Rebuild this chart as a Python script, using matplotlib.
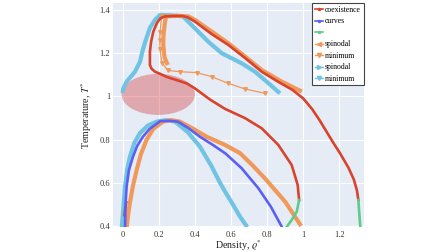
import matplotlib
matplotlib.use("Agg")
import matplotlib.pyplot as plt
from matplotlib.patches import Ellipse
from matplotlib.lines import Line2D

plt.rcParams['font.family'] = ['Liberation Serif', 'DejaVu Serif']
plt.rcParams['mathtext.fontset'] = 'stix'

# --- coexistence curves, higher critical point (red + green tails) ---
red1_x = [0.977, 0.969, 0.936, 0.862, 0.77, 0.678, 0.567, 0.484, 0.40, 0.355, 0.30, 0.244,
          0.205, 0.179, 0.16, 0.151, 0.151, 0.158, 0.17, 0.19, 0.21, 0.234, 0.28, 0.33, 0.36,
          0.40, 0.49, 0.585, 0.68, 0.77, 0.86, 0.94, 1.0, 1.05, 1.09, 1.13, 1.17, 1.204, 1.25,
          1.28, 1.297, 1.305]
red1_t = [0.52, 0.59, 0.682, 0.775, 0.852, 0.899, 0.942, 0.985, 1.037, 1.06, 1.075, 1.09,
          1.105, 1.114, 1.128, 1.145, 1.207, 1.255, 1.30, 1.34, 1.362, 1.37, 1.372, 1.372, 1.366,
          1.346, 1.29, 1.238, 1.176, 1.114, 1.068, 1.03, 0.99, 0.94, 0.89, 0.835, 0.78, 0.736,
          0.67, 0.615, 0.565, 0.52]
red_small_x = [0.010, 0.014, 0.020]
red_small_t = [0.45, 0.48, 0.51]
green_in_x = [0.977, 0.964, 0.936, 0.905]
green_in_t = [0.52, 0.466, 0.428, 0.392]
green_out_x = [1.305, 1.31, 1.316]
green_out_t = [0.52, 0.46, 0.392]

# --- coexistence curve, lower critical point (blue) ---
blue_x = [0.013, 0.016, 0.022, 0.035, 0.057, 0.08, 0.112, 0.15, 0.207, 0.26, 0.306, 0.36,
          0.428, 0.50, 0.57, 0.659, 0.751, 0.82, 0.882]
blue_t = [0.39, 0.50, 0.582, 0.66, 0.72, 0.77, 0.813, 0.85, 0.885, 0.887, 0.883, 0.855,
          0.813, 0.775, 0.735, 0.667, 0.575, 0.49, 0.395]

# --- orange set (upper) ---
or_spin_x = [0.216, 0.207, 0.205, 0.207, 0.216, 0.251, 0.317, 0.41, 0.493, 0.585, 0.678, 0.788]
or_spin_t = [1.37, 1.30, 1.26, 1.22, 1.155, 1.12, 1.114, 1.11, 1.091, 1.06, 1.034, 1.014]
or_min1_x = [0.25, 0.232, 0.225, 0.226, 0.232, 0.24, 0.30, 0.364, 0.40, 0.493, 0.585, 0.678,
             0.77, 0.881, 0.992]
or_min1_t = [1.145, 1.18, 1.238, 1.28, 1.33, 1.37, 1.373, 1.37, 1.354, 1.30, 1.246, 1.184,
             1.122, 1.068, 1.022]
# --- orange set (lower) ---
or_min2_x = [0.022, 0.03, 0.04, 0.058, 0.078, 0.10, 0.133, 0.17, 0.223, 0.27, 0.317, 0.39,
             0.465, 0.567, 0.65, 0.72, 0.788, 0.9, 0.988]
or_min2_t = [0.39, 0.45, 0.507, 0.59, 0.66, 0.73, 0.80, 0.85, 0.883, 0.89, 0.883, 0.85,
             0.813, 0.775, 0.737, 0.68, 0.62, 0.512, 0.40]

# --- light blue set ---
lb_min1_x = [0.0, 0.003, 0.022, 0.068, 0.096, 0.11, 0.124, 0.151, 0.18, 0.207, 0.27, 0.334,
             0.40, 0.474, 0.548, 0.659, 0.733, 0.807, 0.871]
lb_min1_t = [1.015, 1.035, 1.068, 1.114, 1.16, 1.21, 1.25, 1.317, 1.355, 1.377, 1.375, 1.37,
             1.315, 1.253, 1.2, 1.153, 1.114, 1.061, 1.014]
lb_min2_x = [-0.005, 0.005, 0.013, 0.025, 0.04, 0.065, 0.096, 0.14, 0.188, 0.24, 0.29, 0.36,
             0.428, 0.49, 0.539, 0.567, 0.61, 0.65, 0.69]
lb_min2_t = [0.39, 0.50, 0.582, 0.66, 0.72, 0.785, 0.83, 0.865, 0.883, 0.89, 0.883, 0.835,
             0.767, 0.68, 0.60, 0.559, 0.50, 0.443, 0.395]

xticks = [0, 0.2, 0.4, 0.6, 0.8, 1, 1.2]
xtick_labels = ["0", "0.2", "0.4", "0.6", "0.8", "1", "1.2"]
yticks = [0.4, 0.6, 0.8, 1, 1.2, 1.4]
ytick_labels = ["0.4", "0.6", "0.8", "1", "1.2", "1.4"]

RED = '#d8432b'
BLUE = '#5b5ff5'
GREEN = '#5fcb8a'
ORANGE = '#f0995a'
LBLUE = '#70c3e3'

fig = plt.figure(figsize=(4.48, 2.52), dpi=100)
ax = fig.add_axes([0.252, 0.099, 0.560, 0.889])
ax.set_facecolor('#e5ecf6')
for s in ax.spines.values():
    s.set_visible(False)
ax.grid(True, color='white', lw=0.8)
ax.set_axisbelow(True)

ax.add_patch(Ellipse((0.197, 1.009), 0.406, 0.19, facecolor='#d62728', alpha=0.35,
                     edgecolor='none', zorder=1.5))

band = 3.0
ax.plot(lb_min1_x, lb_min1_t, color=LBLUE, lw=band, solid_capstyle='butt', zorder=2)
ax.plot(lb_min2_x, lb_min2_t, color=LBLUE, lw=band, solid_capstyle='butt', zorder=2)
ax.plot(or_min1_x, or_min1_t, color=ORANGE, lw=band, solid_capstyle='butt', zorder=2)
ax.plot(or_min2_x, or_min2_t, color=ORANGE, lw=band, solid_capstyle='butt', zorder=2)
ax.plot(or_spin_x, or_spin_t, color=ORANGE, lw=0.9, marker='v', ms=2.6, zorder=2.2)

ax.plot(red1_x, red1_t, color=RED, lw=1.9, zorder=3)
ax.plot(red_small_x, red_small_t, color=RED, lw=1.9, zorder=3)
ax.plot(green_in_x, green_in_t, color=GREEN, lw=1.9, zorder=3)
ax.plot(green_out_x, green_out_t, color=GREEN, lw=1.9, zorder=3)
ax.plot(blue_x, blue_t, color=BLUE, lw=1.9, zorder=3)

ax.set_xlim(-0.054, 1.335)
ax.set_ylim(0.395, 1.432)
ax.set_xticks(xticks)
ax.set_xticklabels(xtick_labels)
ax.set_yticks(yticks)
ax.set_yticklabels(ytick_labels)
ax.tick_params(length=0, labelsize=6, colors='#333333')
ax.tick_params(axis='x', pad=3)
ax.tick_params(axis='y', pad=2)
ax.set_xlabel(r"Density, $\varrho^{*}$", fontsize=7.2, color='#222222', labelpad=-0.5)
ax.set_ylabel(r"Temperature, $T^{*}$", fontsize=7.2, color='#222222', labelpad=4)

handles = [
    Line2D([], [], color=RED, lw=1.2, marker='o', ms=1.5),
    Line2D([], [], color=BLUE, lw=1.2, marker='o', ms=1.5),
    Line2D([], [], color=GREEN, lw=1.2, marker='o', ms=1.5),
    Line2D([], [], color=ORANGE, lw=1.0, marker='<', ms=3),
    Line2D([], [], color=ORANGE, lw=1.0, marker='v', ms=3),
    Line2D([], [], color=LBLUE, lw=1.0, marker='>', ms=3),
    Line2D([], [], color=LBLUE, lw=1.0, marker='v', ms=3),
]
labels = ["coexistence", "curves", " ", "spinodal", "minimum", "spinodal", "minimum"]
leg = ax.legend(handles, labels, loc='upper right', bbox_to_anchor=(1.0, 1.0), fontsize=5.6,
                frameon=True, fancybox=False, framealpha=1, edgecolor='#444444',
                handlelength=1.0, handletextpad=0.3, labelspacing=0.45, borderpad=0.35,
                borderaxespad=0.0)
leg.get_frame().set_linewidth(0.8)

fig.savefig("out.png", dpi=100, facecolor='white')
